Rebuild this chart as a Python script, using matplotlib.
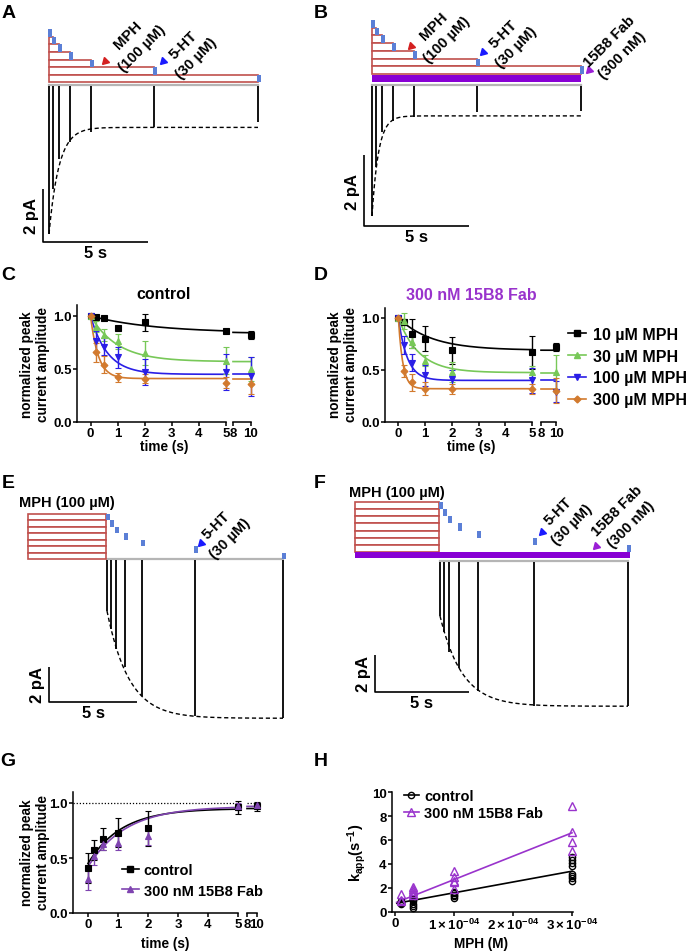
import numpy as np
import matplotlib
matplotlib.use("Agg")
import matplotlib.pyplot as plt
from matplotlib.patches import Rectangle
from matplotlib.lines import Line2D

plt.rcParams.update({
    "font.family": ["Liberation Sans", "DejaVu Sans"],
    "font.weight": "bold",
    "axes.labelweight": "bold",
    "axes.titleweight": "bold",
    "mathtext.fontset": "custom",
    "mathtext.rm": "Liberation Sans:bold",
    "mathtext.it": "Liberation Sans:bold",
    "mathtext.bf": "Liberation Sans:bold",
    "mathtext.sf": "Liberation Sans:bold",
    "mathtext.default": "bf",
    "axes.linewidth": 1.1,
    "xtick.major.width": 1.1,
    "ytick.major.width": 1.1,
    "xtick.major.size": 2.6,
    "ytick.major.size": 2.6,
    "xtick.major.pad": 1.2,
    "ytick.major.pad": 1.2,
    "xtick.labelsize": 9.5,
    "ytick.labelsize": 9.5,
    "axes.labelsize": 9.8,
})

# ---------------- data ----------------
# A/B: 5-HT pulse applied after MPH pre-application of varying duration
pre_times = [0, 0.2, 0.5, 1, 2, 5, 10]            # s
A_peak = [5.62, 3.92, 2.79, 2.15, 1.77, 1.58, 1.40]  # pA
A_fit = dict(a0=5.62, plateau=1.60, k=2.1)
B_peak = [3.69, 2.30, 1.32, 1.01, 0.90, 0.76, 0.73]  # pA
B_fit = dict(a0=3.69, plateau=0.87, k=3.2)

# E/F: recovery after MPH washout
rec_times = [0, 0.2, 0.5, 1, 2, 5, 10]            # s
mph_duration = 4.5                                 # s
E_peak = [2.97, 4.00, 5.14, 6.17, 7.83, 8.97, 9.09]
E_fit = dict(a0=2.97, plateau=9.10, k=0.80)
F_peak = [2.97, 3.84, 4.92, 5.78, 7.03, 7.84, 7.84]
F_fit = dict(a0=2.97, plateau=7.85, k=0.85)

# C/D: normalized peak current vs pre-application time
t_pts = [0, 0.2, 0.5, 1, 2, 5, 10]
mph_labels = ["10 µM MPH", "30 µM MPH", "100 µM MPH", "300 µM MPH"]
C_mean = [[1.0, 0.99, 0.98, 0.89, 0.94, 0.86, 0.82],
          [1.0, 0.90, 0.82, 0.76, 0.65, 0.58, 0.50],
          [1.0, 0.76, 0.71, 0.61, 0.47, 0.47, 0.43],
          [1.0, 0.66, 0.54, 0.42, 0.41, 0.37, 0.36]]
C_err = [[0, 0.01, 0.01, 0.01, 0.08, 0.01, 0.04],
         [0, 0.05, 0.06, 0.07, 0.11, 0.13, 0.11],
         [0, 0.10, 0.08, 0.10, 0.12, 0.17, 0.18],
         [0, 0.09, 0.08, 0.04, 0.04, 0.05, 0.10]]
C_fit_plateau = [0.84, 0.57, 0.45, 0.41]
C_fit_k = [0.42, 1.0, 1.6, 3.5]
D_mean = [[1.0, 0.96, 0.85, 0.80, 0.69, 0.67, 0.72],
          [1.0, 0.97, 0.77, 0.59, 0.48, 0.48, 0.48],
          [1.0, 0.74, 0.57, 0.45, 0.41, 0.40, 0.29],
          [1.0, 0.49, 0.38, 0.32, 0.32, 0.32, 0.30]]
D_err = [[0, 0.03, 0.14, 0.12, 0.13, 0.16, 0.04],
         [0, 0.08, 0.06, 0.05, 0.10, 0.06, 0.16],
         [0, 0.09, 0.08, 0.10, 0.09, 0.12, 0.10],
         [0, 0.06, 0.08, 0.06, 0.05, 0.05, 0.12]]
D_fit_plateau = [0.69, 0.475, 0.40, 0.32]
D_fit_k = [0.8, 1.3, 3.0, 6.0]

# G: recovery
G_labels = ["control", "300 nM 15B8 Fab"]
G_mean = [[0.41, 0.57, 0.67, 0.73, 0.77, 0.96, 0.97],
          [0.31, 0.52, 0.63, 0.64, 0.70, 0.97, 0.98]]
G_err = [[0.14, 0.09, 0.10, 0.13, 0.16, 0.06, 0.04],
         [0.10, 0.08, 0.06, 0.07, 0.08, 0.03, 0.02]]
G_fit_a0 = [0.45, 0.42]
G_fit_plateau = [0.95, 0.97]
G_fit_k = [0.9, 0.8]

# H: kapp vs MPH concentration
H_conc = [1e-5, 3e-5, 1e-4, 3e-4]
H_ctrl = [[0.65, 0.75, 0.85, 0.90],
          [0.30, 0.50, 0.70, 0.90, 1.10],
          [1.20, 1.30, 1.45, 1.55, 1.65],
          [2.60, 2.80, 3.00, 3.20, 3.80, 4.10, 4.30, 4.60]]
H_fab = [[0.90, 1.00, 1.52],
         [1.45, 1.60, 1.75, 1.90, 2.05],
         [1.95, 2.50, 2.60, 2.90, 3.45],
         [5.10, 5.85, 6.65, 8.80]]
H_fit_slope = [9.0e3, 1.95e4]
H_fit_icpt = [0.70, 0.75]
H_fit_range = [3e-6, 3e-4]

# ---------------- styles ----------------
RED = "#c0504d"
BLUE_M = "#5b7fd6"
PURPLE = "#8800d4"
C_COLS = ["#000000", "#78c858", "#2a1ee6", "#d27a2e"]
C_MARK = ["s", "^", "v", "D"]
C_MS = [4.5, 5, 5, 3.5]
G_COLS = ["#000000", "#7f44b0"]
G_MARK = ["s", "^"]
H_COLS = ["#000000", "#9933cc"]

W, H = 686, 953
fig = plt.figure(figsize=(W / 100, H / 100), dpi=100)

ov = fig.add_axes([0, 0, 1, 1])
ov.set_xlim(0, W)
ov.set_ylim(H, 0)
ov.axis("off")
ov.set_zorder(20)


def box(l, t, r, b):
    return fig.add_axes([l / W, 1 - b / H, (r - l) / W, (b - t) / H])


class Trace:
    def __init__(self, l, t, r, b, x0, y0, pxs, pxpa):
        self.ax = box(l, t, r, b)
        self.x0, self.y0, self.pxs, self.pxpa = x0, y0, pxs, pxpa
        self.ax.set_xlim((l - x0) / pxs, (r - x0) / pxs)
        self.ax.set_ylim((y0 - b) / pxpa, (y0 - t) / pxpa)
        self.ax.axis("off")

    def X(self, px):
        return (px - self.x0) / self.pxs

    def Y(self, py):
        return (self.y0 - py) / self.pxpa

    def dx(self, n):
        return n / self.pxs

    def dy(self, n):
        return n / self.pxpa


def draw_traces(T, times, peaks, fit, rising):
    ax = T.ax
    ax.plot([0, 10], [0, 0], color="#b5b5b5", lw=1.6, zorder=1)
    ax.vlines(times, [-p for p in peaks], -T.dy(1), color="k", lw=1.3, zorder=2)
    tt = np.linspace(0, 10, 400)
    if rising:
        yy = fit["plateau"] - (fit["plateau"] - fit["a0"]) * np.exp(-fit["k"] * tt)
    else:
        yy = fit["plateau"] + (fit["a0"] - fit["plateau"]) * np.exp(-fit["k"] * tt)
    ax.plot(tt, -yy, color="k", lw=1.0, ls=(0, (3, 2)), zorder=3)


def scale_bar(T, cx_px, cy_px, fs=12):
    ax = T.ax
    cx, cy = T.X(cx_px), T.Y(cy_px)
    ax.plot([cx, cx, cx + 5], [cy + 2, cy, cy], color="k", lw=1.2, solid_capstyle="butt")
    ax.text(cx - T.dx(4), cy + 1, "2 pA", rotation=90, ha="right", va="center", fontsize=fs)
    ax.text(cx + 2.5, cy - T.dy(3), "5 s", ha="center", va="top", fontsize=fs)


def blue_marker(T, t, ytop, h):
    T.ax.add_patch(Rectangle((t - T.dx(1), T.Y(ytop + h)), T.dx(4), T.dy(h),
                             fc=BLUE_M, ec="none", zorder=5))


# ---------------- Panel A ----------------
TA = Trace(15, 0, 300, 265, 49, 86, 20.9, 26.5)
top, h = 30, 7.64
for i, d in enumerate(pre_times):
    yt = top + i * h
    if d > 0:
        TA.ax.add_patch(Rectangle((0, TA.Y(yt + h)), d, TA.dy(h), fc="white", ec=RED, lw=1.2, zorder=4))
    blue_marker(TA, d, yt, h)
draw_traces(TA, pre_times, A_peak, A_fit, rising=False)
scale_bar(TA, 43, 243)

# ---------------- Panel B ----------------
TB = Trace(335, 0, 686, 255, 372, 86, 20.9, 35.5)
top, h = 21, 7.7
for i, d in enumerate(pre_times):
    yt = top + i * h
    if d > 0:
        TB.ax.add_patch(Rectangle((0, TB.Y(yt + h)), d, TB.dy(h), fc="white", ec=RED, lw=1.2, zorder=4))
    blue_marker(TB, d, yt, h)
TB.ax.add_patch(Rectangle((0, TB.Y(83)), 10, TB.dy(7), fc=PURPLE, ec="none", zorder=4))
draw_traces(TB, pre_times, B_peak, B_fit, rising=False)
scale_bar(TB, 364, 227)

# ---------------- Panel E ----------------
TE = Trace(0, 490, 320, 730, 107, 560, 17.6, 17.5)
top, h = 515, 6.43
for i, d in enumerate(rec_times):
    yt = top + i * h
    TE.ax.add_patch(Rectangle((-mph_duration, TE.Y(yt + h)), mph_duration - TE.dx(1), TE.dy(h),
                              fc="white", ec=RED, lw=1.2, zorder=4))
    blue_marker(TE, d, yt, h)
draw_traces(TE, rec_times, E_peak, E_fit, rising=True)
scale_bar(TE, 49, 703)

# ---------------- Panel F ----------------
TF = Trace(330, 490, 686, 730, 440, 562, 18.8, 18.5)
top, h = 503, 7.14
for i, d in enumerate(rec_times):
    yt = top + i * h
    TF.ax.add_patch(Rectangle((-mph_duration, TF.Y(yt + h)), mph_duration - TF.dx(1), TF.dy(h),
                              fc="white", ec=RED, lw=1.2, zorder=4))
    blue_marker(TF, d, yt, h)
TF.ax.add_patch(Rectangle((-mph_duration, TF.Y(559)), mph_duration + 10.1, TF.dy(6),
                          fc=PURPLE, ec="none", zorder=4))
draw_traces(TF, rec_times, F_peak, F_fit, rising=True)
scale_bar(TF, 375, 693)


# ---------------- broken-axis plots ----------------
def broken(l, r1, l2, r2, t, b):
    a1 = box(l, t, r1, b)
    a2 = box(l2, t, r2, b)
    a1.set_xlim(-0.5, 5)
    a2.set_xlim(8, 10)
    for a in (a1, a2):
        a.set_ylim(0, 1.1)
        a.spines["top"].set_visible(False)
        a.spines["right"].set_visible(False)
        a.patch.set_alpha(0)
    a2.spines["left"].set_visible(False)
    a2.tick_params(left=False, labelleft=False)
    a1.set_xticks([0, 1, 2, 3, 4, 5])
    a2.set_xticks([8, 10])
    a1.set_yticks([0, 0.5, 1.0])
    a1.set_yticklabels(["0.0", "0.5", "1.0"])
    return a1, a2


def series(a1, a2, t, y, e, col, mk, ms, fit_fn):
    t = np.asarray(t)
    y = np.asarray(y)
    e = np.asarray(e)
    for a, m in ((a1, t <= 5), (a2, t >= 8)):
        cont = a.errorbar(t[m], y[m], yerr=e[m], fmt=mk, color=col, ms=ms, mew=0.8,
                          elinewidth=1.0, capsize=2.2, capthick=1.0, zorder=5)
        for art in cont.get_children():
            art.set_clip_on(False)
    tt1 = np.linspace(0, 5, 200)
    tt2 = np.linspace(8, 10, 50)
    a1.plot(tt1, fit_fn(tt1), color=col, lw=1.2, zorder=4)
    a2.plot(tt2, fit_fn(tt2), color=col, lw=1.2, zorder=4, clip_on=False)


def decay(p, k):
    return lambda tt: p + (1 - p) * np.exp(-k * tt)


def rise(a0, p, k):
    return lambda tt: p - (p - a0) * np.exp(-k * tt)


YLAB = "normalized peak\ncurrent amplitude"

# Panel C
c1, c2 = broken(77, 226, 233, 251, 306.4, 423)
for i in range(4):
    series(c1, c2, t_pts, C_mean[i], C_err[i], C_COLS[i], C_MARK[i], C_MS[i],
           decay(C_fit_plateau[i], C_fit_k[i]))
ov.text(164, 295, "control", ha="center", va="center", fontsize=11.5)
ov.text(50, 365, YLAB, rotation=90, ha="right", va="center", fontsize=9.8, multialignment="center")
ov.text(164, 440, "time (s)", ha="center", va="top", fontsize=9.8)

# Panel D
d1, d2 = broken(385, 532, 541, 556, 308.6, 423)
for i in range(4):
    series(d1, d2, t_pts, D_mean[i], D_err[i], C_COLS[i], C_MARK[i], C_MS[i],
           decay(D_fit_plateau[i], D_fit_k[i]))
ov.text(471, 296, "300 nM 15B8 Fab", ha="center", va="center", fontsize=11.5, color="#9933cc")
ov.text(358, 365, YLAB, rotation=90, ha="right", va="center", fontsize=9.8, multialignment="center")
ov.text(471, 440, "time (s)", ha="center", va="top", fontsize=9.8)
handles = [Line2D([0], [0], color=C_COLS[i], marker=C_MARK[i], ms=C_MS[i], lw=1.2) for i in range(4)]
fig.legend(handles, mph_labels, loc="upper left", bbox_to_anchor=(568 / W, 1 - 328 / H),
           frameon=False, fontsize=11.5, handlelength=1.1, handletextpad=0.45,
           labelspacing=0.42, borderpad=0, borderaxespad=0)

# Panel G
g1, g2 = broken(73, 238, 247, 257, 793, 914)
for a, xr in ((g1, (-0.5, 5)), (g2, (8, 10.4))):
    a.plot(xr, [1, 1], color="k", lw=0.9, ls=(0, (1, 1.5)), clip_on=False, zorder=2)
for i in range(2):
    series(g1, g2, t_pts, G_mean[i], G_err[i], G_COLS[i], G_MARK[i], 5,
           rise(G_fit_a0[i], G_fit_plateau[i], G_fit_k[i]))
ov.text(50, 853, YLAB, rotation=90, ha="right", va="center", fontsize=9.8, multialignment="center")
ov.text(165, 937, "time (s)", ha="center", va="top", fontsize=9.8)
gh = [Line2D([0], [0], color=G_COLS[i], marker=G_MARK[i], ms=5, lw=1.2) for i in range(2)]
fig.legend(gh, G_labels, loc="upper left", bbox_to_anchor=(122 / W, 1 - 864 / H),
           frameon=False, fontsize=10.5, handlelength=1.15, handletextpad=0.35,
           labelspacing=0.45, borderpad=0, borderaxespad=0)

# Panel H
ah = box(392, 793, 573, 913)
ah.set_xlim(-3 / 59e4, 178 / 59e4)
ah.set_ylim(0, 10)
ah.spines["top"].set_visible(False)
ah.spines["right"].set_visible(False)
ah.patch.set_alpha(0)
for i, (vals, mk, ms) in enumerate(((H_ctrl, "o", 4.5), (H_fab, "^", 5.5))):
    for c, v in zip(H_conc, vals):
        ah.plot([c] * len(v), v, ls="none", marker=mk, ms=ms, mfc="none", mec=H_COLS[i],
                mew=1.0, clip_on=False, zorder=5)
    xx = np.array(H_fit_range)
    ah.plot(xx, H_fit_icpt[i] + H_fit_slope[i] * xx, color=H_COLS[i], lw=1.2, zorder=4)
ah.set_xticks([0, 1e-4, 2e-4, 3e-4])
ah.set_xticklabels(["0", r"$1\times10^{-04}$", r"$2\times10^{-04}$", r"$3\times10^{-04}$"])
ah.set_yticks([0, 2, 4, 6, 8, 10])
ov.text(368, 853, r"k$_{app}$(s$^{-1}$)", rotation=90, ha="right", va="center", fontsize=10.5)
ov.text(481, 937, "MPH (M)", ha="center", va="top", fontsize=9.8)
hh = [Line2D([0], [0], color=H_COLS[0], marker="o", ms=4.5, mfc="none", lw=1.2),
      Line2D([0], [0], color=H_COLS[1], marker="^", ms=5.5, mfc="none", lw=1.2)]
fig.legend(hh, G_labels, loc="upper left", bbox_to_anchor=(404 / W, 1 - 790 / H),
           frameon=False, fontsize=10.5, handlelength=1.0, handletextpad=0.4,
           labelspacing=0.2, borderpad=0, borderaxespad=0)

# ---------------- annotations ----------------
def tri(x, y, col):
    ov.plot([x], [y], ls="none", marker=(3, 0, 135), ms=6, color=col)


def rlabel(x, y, s, fs=11):
    ov.text(x, y, s, rotation=45, rotation_mode="anchor", ha="center", va="center",
            fontsize=fs, linespacing=1.45, multialignment="center")


tri(105, 62, "#d42020"); tri(163, 62, "#1a1aff")
rlabel(135, 42, "MPH\n(100 µM)", 10.7)
rlabel(190, 52, "5-HT\n(30 µM)", 10.7)
tri(411, 47, "#d42020"); tri(483, 53, "#1a1aff"); tri(589, 71, "#9b1fd6")
rlabel(440, 33, "MPH\n(100 µM)", 10.5)
rlabel(510, 41, "5-HT\n(30 µM)", 10.7)
rlabel(616, 49, "15B8 Fab\n(300 nM)", 10.7)
tri(201, 544, "#1a1aff")
rlabel(223, 532, "5-HT\n(30 µM)", 10.5)
ov.text(67, 503, "MPH (100 µM)", ha="center", va="center", fontsize=10.5)
tri(542, 533, "#1a1aff"); tri(596, 547, "#9b1fd6")
rlabel(565, 518, "5-HT\n(30 µM)", 10.5)
rlabel(624, 518, "15B8 Fab\n(300 nM)", 10.5)
ov.text(397, 493, "MPH (100 µM)", ha="center", va="center", fontsize=10.5)

for lab, x, y in (("A", 9, 14), ("B", 321, 14), ("C", 8, 276), ("D", 321, 276),
                  ("E", 8, 484), ("F", 320, 484), ("G", 8, 762), ("H", 321, 762)):
    ov.text(x, y, lab, ha="center", va="center", fontsize=14)

fig.savefig("out.png", dpi=100)
